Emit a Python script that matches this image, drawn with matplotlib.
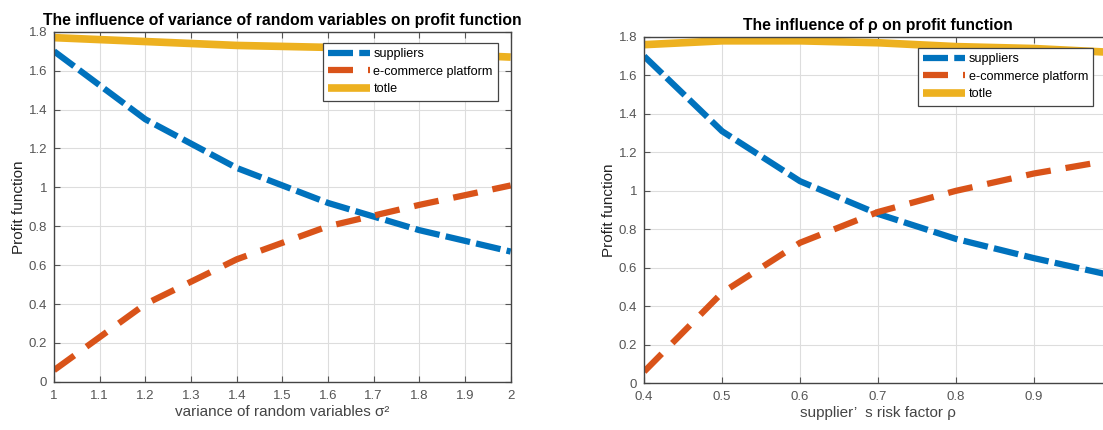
import numpy as np
import matplotlib
matplotlib.use('Agg')
import matplotlib.pyplot as plt

plt.rcParams['font.family'] = ['Liberation Sans', 'DejaVu Sans']

# left panel: variance of random variables
var_x = [1.0, 1.2, 1.4, 1.6, 1.8, 2.0]
var_supplier = [1.70, 1.35, 1.10, 0.92, 0.78, 0.67]
var_platform = [0.06, 0.40, 0.63, 0.80, 0.91, 1.01]
var_total = [1.77, 1.75, 1.73, 1.72, 1.69, 1.67]

# right panel: supplier risk factor rho
rho_x = [0.4, 0.5, 0.6, 0.7, 0.8, 0.9, 1.0]
rho_supplier = [1.70, 1.31, 1.05, 0.88, 0.75, 0.65, 0.56]
rho_platform = [0.06, 0.47, 0.73, 0.89, 1.00, 1.09, 1.16]
rho_total = [1.76, 1.78, 1.78, 1.77, 1.75, 1.74, 1.72]

labels = ['suppliers', 'e-commerce platform', 'totle']
c_blue, c_orange, c_yellow = '#0072BD', '#D95319', '#EDB120'


def panel(ax, x, sup, plat, tot, title, xlabel, xticks, xlim, leg_anchor):
    ax.plot(x, sup, color=c_blue, lw=4.5, dashes=(4, 1.0), label=labels[0])
    ax.plot(x, plat, color=c_orange, lw=4.5, dashes=(4, 2.4), label=labels[1])
    ax.plot(x, tot, color=c_yellow, lw=5.5, label=labels[2], solid_capstyle='butt')
    ax.set_xlim(*xlim)
    ax.set_ylim(0, 1.8)
    ax.set_xticks(xticks)
    ax.set_yticks(np.arange(0, 1.81, 0.2))
    ax.set_yticklabels(['0', '0.2', '0.4', '0.6', '0.8', '1', '1.2', '1.4', '1.6', '1.8'])
    ax.grid(True, color='#dddddd', lw=0.8)
    ax.set_axisbelow(True)
    ax.tick_params(direction='in', top=True, right=True, labelsize=9.5,
                   colors='#555555', length=4)
    ax.tick_params(axis='x', pad=6)
    ax.tick_params(axis='y', pad=5)
    for s in ax.spines.values():
        s.set_color('#444444')
        s.set_linewidth(1.0)
    ax.set_title(title, fontsize=11.3, fontweight='bold', pad=5)
    ax.set_xlabel(xlabel, fontsize=11, color='#444444', labelpad=2)
    ax.set_ylabel('Profit function', fontsize=11, color='#222222', labelpad=2)
    leg = ax.legend(loc='upper right', fontsize=9.1, handlelength=3.3,
                    fancybox=False, framealpha=1, edgecolor='#444444',
                    borderpad=0.4, labelspacing=0.45, handletextpad=0.3,
                    borderaxespad=0, bbox_to_anchor=leg_anchor)
    leg.get_frame().set_linewidth(0.9)


fig = plt.figure(figsize=(11.03, 4.30), dpi=100)
ax1 = fig.add_axes([0.049, 0.112, 0.414, 0.814])
ax2 = fig.add_axes([0.584, 0.109, 0.424, 0.805])

panel(ax1, var_x, var_supplier, var_platform, var_total,
      'The influence of variance of random variables on profit function',
      'variance of random variables σ²',
      [1, 1.1, 1.2, 1.3, 1.4, 1.5, 1.6, 1.7, 1.8, 1.9, 2], (1, 2), (0.972, 0.968))
ax1.set_xticklabels(['1', '1.1', '1.2', '1.3', '1.4', '1.5', '1.6', '1.7', '1.8', '1.9', '2'])

panel(ax2, rho_x, rho_supplier, rho_platform, rho_total,
      'The influence of ρ on profit function',
      'supplier’  s risk factor ρ',
      [0.4, 0.5, 0.6, 0.7, 0.8, 0.9, 1.0], (0.4, 1.0), (0.96, 0.968))
ax2.set_xticklabels(['0.4', '0.5', '0.6', '0.7', '0.8', '0.9', '1'])

fig.savefig('out.png', dpi=100)
